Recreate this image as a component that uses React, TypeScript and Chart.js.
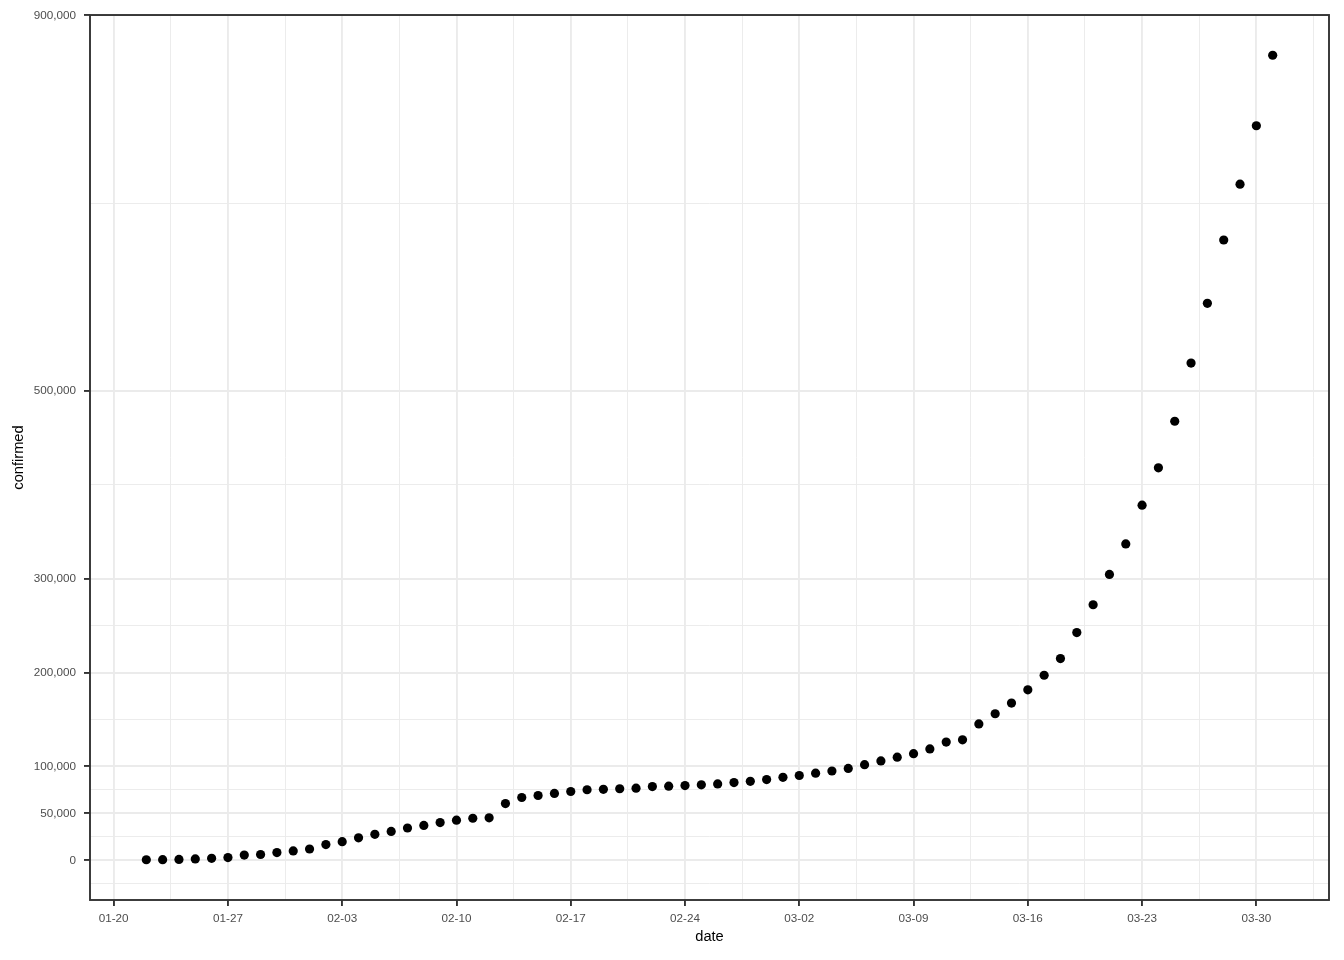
import React, { useEffect, useRef } from 'react';
import { Chart, registerables } from 'chart.js';

Chart.register(...registerables);

// ---- data ----
const dates: string[] = [
  '01-22', '01-23', '01-24', '01-25', '01-26', '01-27', '01-28', '01-29', '01-30', '01-31',
  '02-01', '02-02', '02-03', '02-04', '02-05', '02-06', '02-07', '02-08', '02-09', '02-10',
  '02-11', '02-12', '02-13', '02-14', '02-15', '02-16', '02-17', '02-18', '02-19', '02-20',
  '02-21', '02-22', '02-23', '02-24', '02-25', '02-26', '02-27', '02-28', '02-29', '03-01',
  '03-02', '03-03', '03-04', '03-05', '03-06', '03-07', '03-08', '03-09', '03-10', '03-11',
  '03-12', '03-13', '03-14', '03-15', '03-16', '03-17', '03-18', '03-19', '03-20', '03-21',
  '03-22', '03-23', '03-24', '03-25', '03-26', '03-27', '03-28', '03-29', '03-30', '03-31',
];

const confirmed: number[] = [
  555, 654, 941, 1434, 2118, 2927, 5578, 6166, 8234, 9927,
  12038, 16787, 19881, 23892, 27635, 30794, 34391, 37120, 40150, 42762,
  44802, 45221, 60368, 66885, 69030, 71224, 73258, 75136, 75639, 76197,
  76819, 78572, 78958, 79561, 80406, 81388, 82746, 84112, 86011, 88369,
  90306, 92840, 95120, 97886, 101801, 105847, 109821, 113590, 118620, 125875,
  128352, 145205, 156101, 167454, 181574, 197102, 214821, 242570, 272208, 304507,
  336953, 378231, 418041, 467653, 529591, 593291, 660693, 720140, 782389, 857487,
];

const xTickLabels: string[] = ['01-20', '01-27', '02-03', '02-10', '02-17', '02-24', '03-02', '03-09', '03-16', '03-23', '03-30'];
const yTickValues: number[] = [0, 50000, 100000, 200000, 300000, 500000, 900000];
const yMinorValues: number[] = [-25000, 25000, 75000, 150000, 250000, 400000, 700000];

// day index relative to 01-20 (2020, leap year)
const monthStart: Record<number, number> = { 1: 0, 2: 31, 3: 60 };
const dayIndex = (md: string): number => {
  const [m, d] = md.split('-').map(Number);
  return monthStart[m] + d - 20;
};

const xMajor = xTickLabels.map(dayIndex);
const xMinor = xMajor.map((v) => v + 3.5);
const xLabelMap = new Map<number, string>(xTickLabels.map((l) => [dayIndex(l), l]));
const yMajorSet = new Set<number>(yTickValues);

const X_MIN = -1.45;
const X_MAX = 74.45;
const Y_MIN = -42292;
const Y_MAX = 900334;

const GRID = '#EBEBEB';
const DARK = '#333333';

const panelBorder = {
  id: 'panelBorder',
  afterDraw(chart: any) {
    const { ctx, chartArea } = chart;
    const { left, top, right, bottom } = chartArea;
    ctx.save();
    ctx.strokeStyle = DARK;
    ctx.lineWidth = 1.9;
    ctx.strokeRect(left, top, right - left, bottom - top);
    ctx.restore();
  },
};

export default function App() {
  const canvasRef = useRef<HTMLCanvasElement | null>(null);

  useEffect(() => {
    if (!canvasRef.current) return;
    const points = dates.map((d, i) => ({ x: dayIndex(d), y: confirmed[i] }));
    const tickFont = { family: "'Liberation Sans', Arial, sans-serif", size: 11.7 };
    const titleFont = { family: "'Liberation Sans', Arial, sans-serif", size: 14.67 };

    const chart = new Chart(canvasRef.current, {
      type: 'scatter',
      data: {
        datasets: [
          {
            data: points,
            backgroundColor: '#000000',
            borderWidth: 0,
            pointRadius: 4.6,
            pointHoverRadius: 4.6,
          },
        ],
      },
      plugins: [panelBorder],
      options: {
        animation: false,
        responsive: false,
        devicePixelRatio: 1,
        events: [],
        layout: { padding: { top: 14, right: 15, left: 0, bottom: 0 } },
        plugins: {
          legend: { display: false },
          tooltip: { enabled: false },
        },
        scales: {
          x: {
            type: 'linear',
            min: X_MIN,
            max: X_MAX,
            afterBuildTicks: (scale: any) => {
              scale.ticks = [...xMajor, ...xMinor].sort((a, b) => a - b).map((v) => ({ value: v }));
            },
            afterFit: (scale: any) => {
              scale.height = 60;
            },
            ticks: {
              autoSkip: false,
              maxRotation: 0,
              minRotation: 0,
              padding: 5.7,
              color: '#4D4D4D',
              font: tickFont,
              callback: (value: any) => xLabelMap.get(Number(value)) ?? '',
            },
            grid: {
              drawTicks: true,
              tickLength: 6,
              color: (ctx: any) => GRID,
              lineWidth: (ctx: any) => (xLabelMap.has(ctx.tick?.value) ? 1.9 : 0.95),
              tickColor: (ctx: any) => (xLabelMap.has(ctx.tick?.value) ? DARK : 'rgba(0,0,0,0)'),
              tickWidth: 1.9,
            },
            border: { display: false },
            title: {
              display: true,
              text: 'date',
              color: '#000000',
              font: titleFont,
              padding: { top: 0, bottom: 14 },
            },
          },
          y: {
            type: 'linear',
            min: Y_MIN,
            max: Y_MAX,
            afterBuildTicks: (scale: any) => {
              scale.ticks = [...yTickValues, ...yMinorValues].sort((a, b) => a - b).map((v) => ({ value: v }));
            },
            afterFit: (scale: any) => {
              scale.width = 90;
            },
            ticks: {
              autoSkip: false,
              padding: 8,
              color: '#4D4D4D',
              font: tickFont,
              callback: (value: any) => (yMajorSet.has(Number(value)) ? Number(value).toLocaleString('en-US') : ''),
            },
            grid: {
              drawTicks: true,
              tickLength: 6,
              color: (ctx: any) => GRID,
              lineWidth: (ctx: any) => (yMajorSet.has(ctx.tick?.value) ? 1.9 : 0.95),
              tickColor: (ctx: any) => (yMajorSet.has(ctx.tick?.value) ? DARK : 'rgba(0,0,0,0)'),
              tickWidth: 1.9,
            },
            border: { display: false },
            title: {
              display: true,
              text: 'confirmed',
              color: '#000000',
              font: titleFont,
              padding: { top: 10.6, bottom: 0 },
            },
          },
        },
      },
    } as any);

    return () => {
      chart.destroy();
    };
  }, []);

  return (
    <div style={{ position: 'absolute', left: 0, top: 0, width: 1344, height: 960, background: '#ffffff' }}>
      <canvas ref={canvasRef} width={1344} height={960} style={{ display: 'block' }} />
    </div>
  );
}
